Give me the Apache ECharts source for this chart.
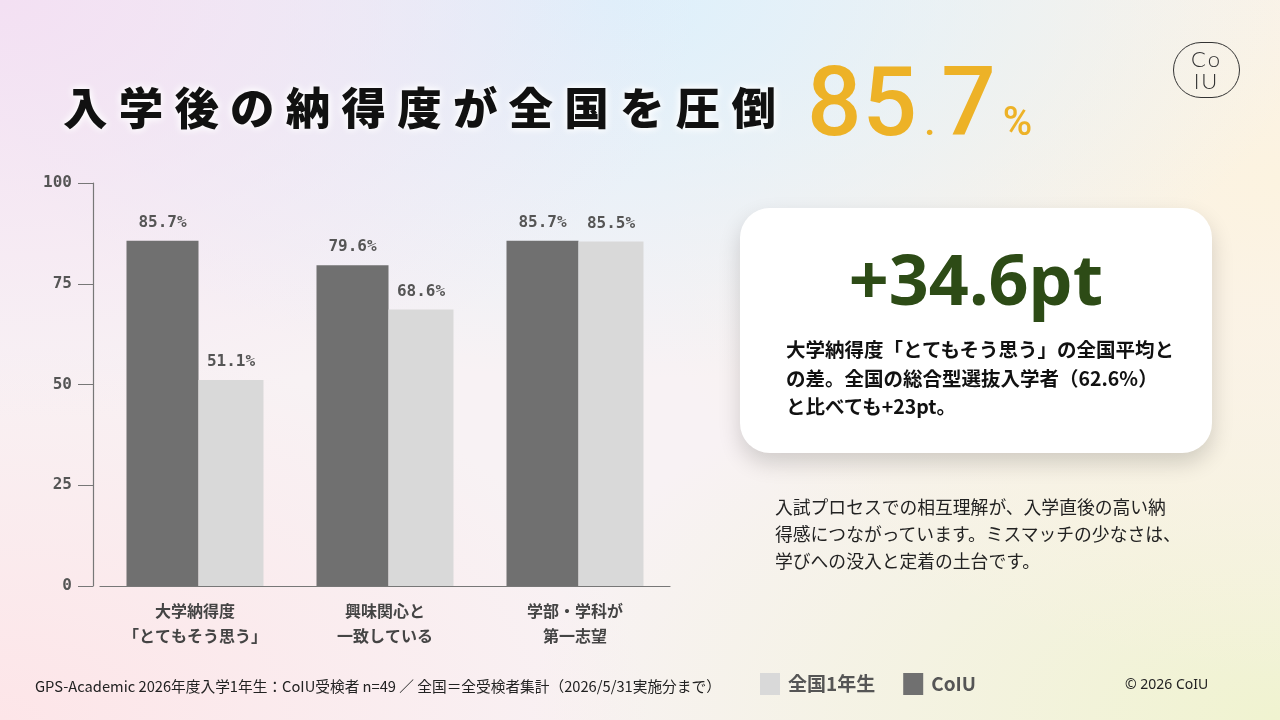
<!DOCTYPE html>
<html><head><meta charset="utf-8">
<script src="https://cdn.jsdelivr.net/npm/echarts@6/dist/echarts.min.js"></script>
<style>
html,body{margin:0;padding:0;width:1280px;height:720px;overflow:hidden;font-family:"Noto Sans CJK JP","Noto Sans",sans-serif;}
body{background-color:#f8f2f4;
background-image:
radial-gradient(ellipse 700px 420px at 0% 0%, #f3e0f3 0%, rgba(243,224,243,0) 100%),
radial-gradient(ellipse 700px 380px at 48% 0%, #ddf0fb 0%, rgba(221,240,251,0) 100%),
radial-gradient(ellipse 650px 500px at 100% 25%, #fcf3e0 0%, rgba(252,243,224,0) 100%),
radial-gradient(ellipse 650px 380px at 0% 100%, #fde5e8 0%, rgba(253,229,232,0) 100%),
radial-gradient(ellipse 750px 420px at 100% 100%, #f0f3d0 0%, rgba(240,243,208,0) 100%);}
#chart{position:absolute;left:0;top:0;width:1280px;height:720px;}
.abs{position:absolute;white-space:nowrap;}
#title{left:63px;top:76px;font-size:44.5px;font-weight:900;letter-spacing:11.2px;color:#111;line-height:60px;text-shadow:0 0 6px #fff,0 0 10px #fff;}
#big{left:807px;top:47px;color:#edb227;font-family:Roboto,"Noto Sans",sans-serif;font-weight:500;line-height:110px;}
#big .n{font-size:96px;letter-spacing:1px;}
#big .s{font-size:40px;margin:0 6px;}
#logo{left:1173px;top:42px;width:67px;height:56px;border:1.6px solid #333;border-radius:28px;text-align:center;color:#333;font-family:Lato,"Open Sans",sans-serif;font-weight:300;font-size:22px;line-height:22px;padding-top:5px;box-sizing:border-box;letter-spacing:2px;}
#card{left:740px;top:208px;width:472px;height:245px;background:#fff;border-radius:30px;box-shadow:0 10px 22px rgba(0,0,0,0.16);}
#pt{left:740px;width:472px;top:235px;text-align:center;font-family:"Noto Sans",sans-serif;font-weight:700;font-size:70px;color:#2d4b16;line-height:86px;}
#cardtxt{left:786px;top:335px;font-size:19.5px;font-weight:700;color:#111;line-height:28.5px;}
#para{left:775px;top:493px;font-size:17.8px;color:#222;line-height:27px;}
#foot{left:35px;top:676px;font-size:14.7px;color:#222;line-height:20px;}
#copy{left:1125px;top:674px;font-size:14px;color:#222;line-height:20px;font-family:"Noto Sans",sans-serif;}
</style></head>
<body>
<div id="chart"></div>
<div class="abs" id="title">入学後の納得度が全国を圧倒</div>
<div class="abs" id="big"><span class="n">85</span><span class="s">.</span><span class="n">7</span><span class="s">%</span></div>
<div class="abs" id="logo">Co<br>IU</div>
<div class="abs" id="card"></div>
<div class="abs" id="pt">+34.6pt</div>
<div class="abs" id="cardtxt">大学納得度「とてもそう思う」の全国平均と<br>の差。全国の総合型選抜入学者（62.6%）<br>と比べても+23pt。</div>
<div class="abs" id="para">入試プロセスでの相互理解が、入学直後の高い納<br>得感につながっています。ミスマッチの少なさは、<br>学びへの没入と定着の土台です。</div>
<div class="abs" id="foot">GPS-Academic 2026年度入学1年生：CoIU受検者 n=49 ／ 全国＝全受検者集計（2026/5/31実施分まで）</div>
<div class="abs" id="copy">© 2026 CoIU</div>
<script>
const categories = ['大学納得度\n「とてもそう思う」', '興味関心と\n一致している', '学部・学科が\n第一志望'];
const coiuValues = [85.7, 79.6, 85.7];
const nationalValues = [51.1, 68.6, 85.5];
const seriesNames = ['CoIU', '全国1年生'];
const yTicks = [0, 25, 50, 75, 100];

const chart = echarts.init(document.getElementById('chart'), null, {renderer: 'canvas'});
const monoFont = '"DejaVu Sans Mono", "Liberation Mono", monospace';
const labelStyle = {show: true, position: 'top', distance: 10, color: '#555', fontSize: 16, fontWeight: 'bold',
  fontFamily: monoFont, formatter: p => p.value.toFixed(1) + '%'};
chart.setOption({
  backgroundColor: 'transparent',
  animation: false,
  legend: {
    data: [seriesNames[1], seriesNames[0]],
    left: 755, top: 668, itemWidth: 20, itemHeight: 22, itemGap: 28, icon: 'rect',
    textStyle: {fontSize: 19, fontWeight: 'bold', color: '#555', fontFamily: '"Noto Sans CJK JP", sans-serif', padding: [0, 0, 0, 3]}
  },
  grid: {left: 100, width: 570, top: 183, bottom: 134},
  xAxis: {
    type: 'category', data: categories,
    axisLine: {lineStyle: {color: '#777', width: 1.2}},
    axisTick: {show: false},
    axisLabel: {color: '#444', fontSize: 16, fontWeight: 'bold', lineHeight: 25, margin: 12,
      fontFamily: '"Noto Sans CJK JP", sans-serif'}
  },
  yAxis: {
    type: 'value', min: yTicks[0], max: yTicks[yTicks.length - 1], interval: 25, offset: 7,
    splitLine: {show: false},
    axisLine: {show: true, lineStyle: {color: '#777', width: 1.2}},
    axisTick: {show: true, length: 15, lineStyle: {color: '#777'}},
    axisLabel: {color: '#555', fontSize: 16, fontWeight: 'bold', margin: 21, fontFamily: monoFont}
  },
  series: [
    {name: seriesNames[0], type: 'bar', data: coiuValues, barWidth: 72, barGap: '0%',
      itemStyle: {color: '#707070'}, label: labelStyle},
    {name: seriesNames[1], type: 'bar', data: nationalValues, barWidth: 65, barGap: '0%',
      itemStyle: {color: '#d9d9d9'}, label: labelStyle}
  ]
});
</script>
</body></html>
